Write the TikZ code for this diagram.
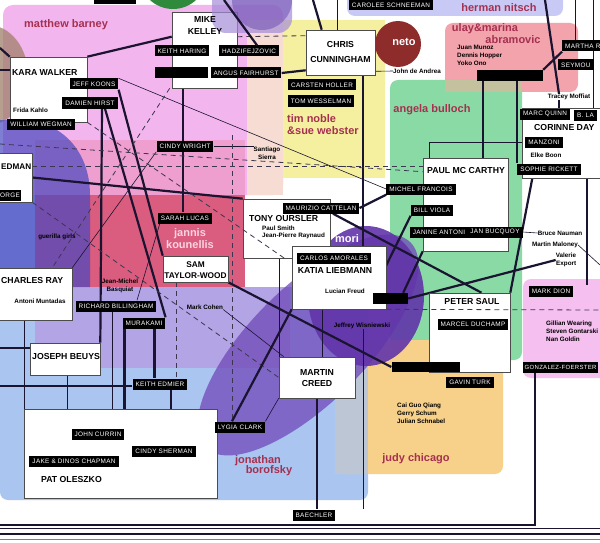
\documentclass[tikz,border=0pt]{standalone}
\usepackage{fontspec}
\setmainfont{Liberation Sans}
\newfontfamily\labfam[LetterSpace=5]{Liberation Sans}
\usetikzlibrary{calc, positioning}
\definecolor{lnk}{HTML}{1A1430}
\definecolor{maroon}{HTML}{A5304F}
\definecolor{jannistext}{HTML}{FAD6E2}
\definecolor{pinkarea}{HTML}{F3B5EE}
\definecolor{rosearea}{HTML}{EE9ECF}
\definecolor{crimson}{HTML}{DA5C7E}
\definecolor{peach}{HTML}{F6DCD2}
\definecolor{yellowarea}{HTML}{F5EFA0}
\definecolor{lightblue}{HTML}{A9C5F0}
\definecolor{lavender}{HTML}{B3A4E6}
\definecolor{bluearea}{HTML}{4848C0}
\definecolor{purpleE}{HTML}{7048B8}
\definecolor{moriP}{HTML}{6234AA}
\definecolor{greenarea}{HTML}{8ADAA6}
\definecolor{salmon}{HTML}{F2A3AC}
\definecolor{olive}{HTML}{C3C19E}
\definecolor{lavtop}{HTML}{C9C9F6}
\definecolor{netored}{HTML}{8E2C2C}
\definecolor{pinkright}{HTML}{F5C0F0}
\definecolor{orangearea}{HTML}{F7D189}
\definecolor{grayov}{HTML}{BCC6D4}
\definecolor{topgreen}{HTML}{2F8A3C}
\definecolor{brownL}{HTML}{A0806A}
\definecolor{lavmid}{HTML}{A48ED8}
\definecolor{purpdark}{HTML}{6A48B0}
\pgfdeclarelayer{areas}
\pgfdeclarelayer{links}
\pgfsetlayers{areas,links,main}

\begin{document}
\begin{tikzpicture}[x=1pt, y=-1pt,
    namebox/.style={draw=black!70, line width=0.6pt, fill=white, inner sep=0pt},
    bigname/.style={font=\bfseries\fontsize{8.7}{11}\selectfont, inner sep=0pt},
    blk/.style={fill=black, text=white, font=\labfam\fontsize{6.4}{7}\selectfont,
        inner xsep=3pt, inner ysep=0pt, minimum height=11pt},
    blkbar/.style={fill=black, inner sep=0pt, minimum height=11pt},
    note/.style={font=\bfseries\fontsize{6.3}{7.8}\selectfont, inner sep=0pt},
    areatext/.style={font=\bfseries\fontsize{11}{12}\selectfont, text=maroon, inner sep=0pt},
    bond/.style={line width=2.2pt, draw=lnk},
    thinbond/.style={line width=0.6pt, draw=lnk},
    dashbond/.style={line width=0.8pt, draw=lnk!85, dash pattern=on 5pt off 4pt},
]
    \useasboundingbox (0,0) rectangle (600,543);

    % coloured fields
    \begin{pgfonlayer}{areas}
        \fill[white] (0,0) rectangle (600,543);
        \fill[lightblue, rounded corners=8pt] (0,287) rectangle (368,500);
        \fill[lightblue] (0,195) rectangle (35,295);
        \fill[pinkarea, rounded corners=10pt] (3,5) rectangle (283,195);
        \fill[rosearea] (35,140) rectangle (245,195);
        \fill[crimson] (35,195) rectangle (245,287);
        \fill[lavender] (35,287) rectangle (290,368);
        \fill[peach] (247,20) rectangle (283,195);
        \fill[yellowarea] (283,20) rectangle (385,178);
        \fill[brownL, opacity=.75] (-12,75) ellipse [x radius=40pt, y radius=50pt];
        \fill[bluearea, opacity=.7] (-10,287) -- (-10,120) -- (20,120)
            .. controls (60,120) and (90,150) .. (90,195) -- (90,287) -- cycle;
        \fill[topgreen] (173,-25) circle [radius=34pt];
        \fill[lavtop, rounded corners=8pt] (347,-10) rectangle (563,16);
        \fill[salmon, rounded corners=8pt] (445,23) rectangle (578,92);
        \fill[greenarea, rounded corners=8pt] (390,80) rectangle (522,360);
        \fill[olive] (445,80) rectangle (522,92);
        \fill[pinkright, rounded corners=8pt] (523,279) rectangle (620,378);
        \fill[orangearea, rounded corners=8pt] (335,340) rectangle (503,474);
        \fill[grayov] (335,340) rectangle (368,474);
        \fill[purpleE, opacity=.75, rotate around={45:(308,345)}] (308,345) ellipse [x radius=145pt, y radius=58pt];
        \fill[moriP, opacity=.9] (366,296) ellipse [x radius=58pt, y radius=70pt];
        \fill[netored] (398,44) circle [radius=23pt];
    \end{pgfonlayer}

    % name boxes
    \node[namebox, minimum width=65pt, minimum height=76pt] (mike) at (204.5,50) {};
    \node[namebox, minimum width=77pt, minimum height=65pt] (kara) at (48.5,89.5) {};
    \node[namebox, minimum width=69pt, minimum height=45pt] (chris) at (340.5,52.5) {};
    \node[namebox, minimum width=40pt, minimum height=49pt] (edman) at (12,177.5) {};
    \node[namebox, minimum width=80pt, minimum height=52pt] (charles) at (32,294) {};
    \node[namebox, minimum width=70pt, minimum height=32pt] (beuys) at (65,359) {};
    \node[namebox, minimum width=193pt, minimum height=89pt] (pat) at (120.5,453.5) {};
    \node[namebox, minimum width=87pt, minimum height=59pt] (tony) at (286.5,228.5) {};
    \node[namebox, minimum width=65pt, minimum height=26pt] (sam) at (195.5,269) {};
    \node[namebox, minimum width=94pt, minimum height=63pt] (katia) at (339,277.5) {};
    \node[namebox, minimum width=85pt, minimum height=93pt] (paul) at (465.5,204.5) {};
    \node[namebox, minimum width=81pt, minimum height=79pt] (peter) at (469.5,332.5) {};
    \node[namebox, minimum width=90pt, minimum height=70pt] (corinne) at (567,143) {};
    \node[namebox, minimum width=76pt, minimum height=41pt] (creed) at (317,377.5) {};

    % purple field over the top of mike kelley
    \fill[lavmid, opacity=.7, rounded corners=14pt] (212,-14) rectangle (292,33);
    \fill[purpdark, opacity=.5] (262,0) circle [radius=30pt];

    % names in the boxes
    \node[bigname, align=center, font=\bfseries\fontsize{8.7}{12}\selectfont] (miket) at (205,26) {MIKE\\KELLEY};
    \node[bigname, anchor=west] (karat) at (12,73) {KARA WALKER};
    \node[bigname, align=center, font=\bfseries\fontsize{8.7}{15}\selectfont] (christ) at (340.5,52.5) {CHRIS\\CUNNINGHAM};
    \node[bigname, anchor=west, font=\bfseries\fontsize{8.2}{10}\selectfont] (edmant) at (1,167) {EDMAN};
    \node[bigname, anchor=west] (charlest) at (1,281) {CHARLES RAY};
    \node[bigname, anchor=west] (beuyst) at (32,357) {JOSEPH BEUYS};
    \node[bigname, anchor=west] (patt) at (41,480) {PAT OLESZKO};
    \node[bigname, anchor=west] (tonyt) at (249,219) {TONY OURSLER};
    \node[bigname, align=center, font=\bfseries\fontsize{8.3}{11.5}\selectfont] (samt) at (195.5,270) {SAM\\TAYLOR-WOOD};
    \node[bigname] (katiat) at (335,271) {KATIA LIEBMANN};
    \node[bigname, anchor=west] (pault) at (427,171) {PAUL MC CARTHY};
    \node[bigname] (petert) at (472,302) {PETER SAUL};
    \node[bigname, anchor=west] (corinnet) at (534,128) {CORINNE DAY};
    \node[bigname, align=center, font=\bfseries\fontsize{8.7}{11}\selectfont] (creedt) at (317,378) {MARTIN\\CREED};

    % small names
    \node[note, anchor=west] (frida) at (13,110) {Frida Kahlo};
    \node[note, align=center] (santiago) at (267,153) {Santiago\\Sierra};
    \node[note] (andrea) at (417,71) {John de Andrea};
    \node[note, align=left, anchor=north west] (juan) at (457,45) {Juan Munoz\\Dennis Hopper\\Yoko Ono};
    \node[note] (tracey) at (569,97) {Tracey Moffiat};
    \node[note] (elke) at (546,155) {Elke Boon};
    \node[note] (nauman) at (560,233) {Bruce Nauman};
    \node[note] (maloney) at (555,245) {Martin Maloney};
    \node[note, align=right] (valerie) at (566,260) {Valerie\\Export};
    \node[note, align=left, anchor=north west] (gillian) at (546,321) {Gillian Wearing\\Steven Gontarski\\Nan Goldin};
    \node[note, align=left, anchor=north west] (cai) at (397,403) {Cai Guo Qiang\\Gerry Schum\\Julian Schnabel};
    \node[note] (wisniewski) at (362,326) {Jeffrey Wisniewski};
    \node[note] (cohen) at (205,307) {Mark Cohen};
    \node[note, align=center] (basquiat) at (120,286) {Jean-Michel\\Basquiat};
    \node[note] (guerilla) at (57,237) {guerilla girls};
    \node[note] (muntadas) at (40,301) {Antoni Muntadas};
    \node[note, align=left, anchor=north west, font=\bfseries\fontsize{6.3}{7.2}\selectfont] (smith) at (262,226) {Paul Smith\\Jean-Pierre Raynaud};
    \node[note] (lucian) at (345,291) {Lucian Freud};

    % field names
    \node[areatext, anchor=west] (barney) at (24,25) {matthew barney};
    \node[areatext, align=left, anchor=north west] (timnoble) at (287,114) {tim noble\\\&sue webster};
    \node[areatext] (herman) at (499,8) {herman nitsch};
    \node[areatext] (ulayA) at (485,29) {ulay\&marina};
    \node[areatext] (ulayB) at (513,40) {abramovic};
    \node[areatext] (angela) at (432,110) {angela bulloch};
    \node[areatext, text=jannistext, align=center] (jannis) at (190,239) {jannis\\kounellis};
    \node[areatext, text=white] (mori) at (347,239) {mori};
    \node[areatext, text=white] (netot) at (404,42) {neto};
    \node[areatext] (jonathan) at (258,461) {jonathan};
    \node[areatext] (borofsky) at (269,471) {borofsky};
    \node[areatext] (judy) at (416,459) {judy chicago};

    % black tags
    \node[blk] (haring) at (182,51) {KEITH HARING};
    \node[blk] (hadzi) at (249,51) {HADZIFEJZOVIC};
    \node[blk] (angus) at (246,73) {ANGUS FAIRHURST};
    \node[blk] (koons) at (94,84) {JEFF KOONS};
    \node[blk] (hirst) at (90,103) {DAMIEN HIRST};
    \node[blk] (wegman) at (41,124) {WILLIAM WEGMAN};
    \node[blk, anchor=west, inner xsep=1pt] (orge) at (-1,195) {ORGE};
    \node[blk] (cwright) at (185,146) {CINDY WRIGHT};
    \node[blk] (lucas) at (185,218) {SARAH LUCAS};
    \node[blk] (holler) at (322,85) {CARSTEN HOLLER};
    \node[blk] (wessel) at (321,101) {TOM WESSELMAN};
    \node[blk] (carolee) at (391,5) {CAROLEE SCHNEEMAN};
    \node[blk, anchor=west] (martha) at (562,46) {MARTHA R};
    \node[blk, anchor=west] (seymou) at (558,65) {SEYMOU};
    \node[blk] (quinn) at (545,114) {MARC QUINN};
    \node[blk, anchor=west] (bla) at (574,115) {B. LA};
    \node[blk] (manzoni) at (544,142) {MANZONI};
    \node[blk] (rickett) at (549,169) {SOPHIE RICKETT};
    \node[blk] (francois) at (421,189) {MICHEL FRANCOIS};
    \node[blk] (viola) at (432,210) {BILL VIOLA};
    \node[blk] (antoni) at (439,232) {JANINE ANTONI};
    \node[blk] (bucquoy) at (495,232) {JAN BUCQUOY};
    \node[blk] (dion) at (551,291) {MARK DION};
    \node[blk, anchor=west, inner xsep=1.5pt, font=\labfam\fontsize{6}{7}\selectfont] (gonzalez) at (523,367) {GONZALEZ-FOERSTER};
    \node[blk] (turk) at (470,382) {GAVIN TURK};
    \node[blk] (cattelan) at (321,208) {MAURIZIO CATTELAN};
    \node[blk] (amorales) at (334,258) {CARLOS AMORALES};
    \node[blk] (duchamp) at (473,324) {MARCEL DUCHAMP};
    \node[blk] (billing) at (116,306) {RICHARD BILLINGHAM};
    \node[blk] (murakami) at (144,323) {MURAKAMI};
    \node[blk] (edmier) at (160,384) {KEITH EDMIER};
    \node[blk] (currin) at (98,434) {JOHN CURRIN};
    \node[blk] (sherman) at (164,451) {CINDY SHERMAN};
    \node[blk] (chapman) at (74,461) {JAKE \& DINOS CHAPMAN};
    \node[blk] (lygia) at (240,427) {LYGIA CLARK};
    \node[blk] (baechler) at (314,515) {BAECHLER};

    % empty black bars
    \node[blkbar, minimum width=53pt] (mkbar) at (181.5,73) {};
    \node[blkbar, minimum width=66pt] (ulaybar) at (510,75.5) {};
    \node[blkbar, minimum width=35pt] (katbar) at (390.5,298.5) {};
    \node[blkbar, minimum width=68pt, minimum height=10pt] (petbar) at (425.5,367) {};
    \node[blkbar, minimum width=42pt, minimum height=7pt] (topbar) at (115,1) {};

    % free ends and drop points
    \coordinate (mktop) at (224,0);
    \coordinate (cctop) at (313,0);
    \coordinate (cctop2) at (337,0);
    \coordinate (mrtop) at (545,0);
    \coordinate (rtop1) at (575,0);
    \coordinate (rtop2) at (593,0);
    \coordinate (lefta) at (0,144);
    \coordinate (lkar1) at (0,48);
    \coordinate (lkar2) at (0,70);
    \coordinate (lbeu) at (0,348);
    \coordinate (ledm) at (0,386);
    \coordinate (dtop) at (232,135);
    \coordinate (dright) at (600,310);
    \coordinate (mright) at (600,265);
    \coordinate (sright) at (600,164);
    \coordinate (wisd) at (363,509);
    \coordinate (frame) at (0,525);
    \coordinate (hzdrop) at ($(hadzi.south west)+(8,0)$);
    \coordinate (ccdrop) at ($(chris.south east)+(-12,0)$);
    \coordinate (ubl) at ($(ulaybar.south west)+(6,0)$);
    \coordinate (ubr) at ($(ulaybar.south west)+(40,0)$);
    \coordinate (tq) at ($(tracey.south)+(-10,0)$);
    \coordinate (cds) at ($(corinne.south west)+(65,0)$);
    \coordinate (samdrop) at ($(sam.south west)+(14,0)$);
    \coordinate (tonydrop) at ($(tony.south west)+(37,0)$);
    \coordinate (katdrop) at ($(katia.south west)+(31,0)$);
    \coordinate (crdrop) at ($(charles.south west)+(33,0)$);
    \coordinate (bydrop) at ($(beuys.south west)+(38,0)$);
    \coordinate (rbdrop) at ($(billing.south)+(-4,0)$);
    \coordinate (mkdropa) at ($(murakami.south west)+(2,0)$);
    \coordinate (mkdropb) at ($(murakami.south east)+(-11,0)$);
    \coordinate (eddrop) at ($(edmier.south)+(11,0)$);
    \coordinate (gzdrop) at ($(gonzalez.south west)+(12,0)$);

    \begin{pgfonlayer}{links}
        % upper left
        \draw[bond] (kara.north east) -- ($(mike.north west)+(0,25)$);
        \draw[bond] (lkar1) -- (kara.north west);
        \draw[bond] (lkar2) -- (lkar2 -| kara.west);
        \draw[bond] (koons.south east) -- (sam.north west);
        \draw[bond] ($(hirst.south)+(15,0)$) -- (murakami.north east);
        \draw[bond] ($(hirst.south)+(12,0)$) -- (beuys.north east);
        \draw[bond] ($(mkbar.south)+(1.5,0)$) -- ($(lucas.north)+(-2,0)$);
        \draw[bond] (edman.east) -- (tony.north west);
        \draw[bond] (angus.east) -- ($(chris.south west)+(0,-5)$);
        \draw[thinbond] (hzdrop) -- (hzdrop |- angus.north);
        \draw[thinbond] (koons.north east) -- (francois.west);
        \draw[thinbond] (cwright.east) -- (cwright.east -| santiago.west);
        \draw[thinbond] (charles.north east) -- (cwright.south west);

        % chris cunningham
        \draw[bond] (cctop) -- ($(chris.north west)+(16,0)$);
        \draw[thinbond] (cctop2) -- (cctop2 |- chris.north);
        \draw[bond] (ccdrop) -- (ccdrop |- amorales.north);
        \draw[thinbond] ($(chris.south east)+(0,-4)$) -- (andrea.west);
        \draw[dashbond] ($(mike.north east)+(0,25)$) -- ($(chris.north west)+(0,6)$);

        % upper right
        \draw[bond] (ubl) -- (ubl |- paul.north);
        \draw[bond] (ubr) -- (ubr |- rickett.north);
        \draw[bond] (ulaybar.north east) -- (martha.south west);
        \draw[bond] (mrtop) -- ($(tracey.north)+(-10,0)$);
        \draw[line width=1.2pt, lnk] (tq) -- (tq |- quinn.north);
        \draw[thinbond] (rtop1) -- (rtop1 |- martha.north);
        \draw[thinbond] (rtop2) -- (rtop2 |- bla.north);
        \draw[thinbond] (manzoni.west) -| ($(paul.north west)+(7,0)$);
        \draw[thinbond] (rickett.east) -- (sright);
        \draw[bond] (cds) -- (cds |- dion.north);
        \draw[bond] ($(rickett.south)+(-16,0)$) -- (peter.north east);

        % paul mc carthy and peter saul
        \draw[bond] (viola.south west) -- (katbar.north west);
        \draw[bond] (paul.south west) -- ($(katbar.north east)+(-5,0)$);
        \draw[bond] (valerie.west) -- (katbar.east);
        \draw[thinbond] (antoni.east) -- (bucquoy.west);
        \draw[thinbond] (bucquoy.east) -- (nauman.west);
        \draw[thinbond] (maloney.east) -- (mright);
        \draw[bond] ($(cattelan.south)+(12,0)$) -- ($(peter.north)+(12,0)$);
        \draw[bond] (francois.south west) -- (cattelan.east);

        % dashed ties
        \draw[dashbond] (lefta) -- ($(paul.north west)+(0,14)$);
        \draw[dashbond] ($(edman.north east)+(0,14)$) -- ($(paul.north west)+(0,9)$);
        \draw[dashbond] ($(mike.south west)+(-2,0)$) -- ($(charles.north east)+(-20,0)$);
        \draw[dashbond] (edman.south east) -- (creed.west);
        \draw[dashbond] (dtop) -- (dtop |- lygia.north);
        \draw[dashbond] (samdrop) -- (samdrop |- edmier.north);

        % centre
        \draw[bond] (sam.south east) -- (petbar.west);
        \draw[bond] ($(lygia.north)+(-8,0)$) -- (katia.south west);
        \draw[thinbond] (lygia.north east) -- (creed.south west);
        \draw[line width=1.4pt, lnk] (tonydrop) -- (tonydrop |- creed.north);
        \draw[line width=1.4pt, lnk] (creed.south) -- (creed.south |- baechler.north);
        \draw[line width=1pt, lnk] (katdrop) -- (katdrop |- creed.north);
        \draw[thinbond] ($(wisniewski.south)+(1,0)$) -- (wisd);
        \draw[thinbond] (cohen.south east) -- ($(creed.north west)+(5,0)$);
        \draw[thinbond] ($(billing.north)+(21,0)$) -- ($(lucas.south west)+(2,0)$);

        % lower left
        \draw[thinbond] (crdrop) -- (crdrop |- pat.north);
        \draw[thinbond] (bydrop) -- (bydrop |- pat.north);
        \draw[thinbond] (rbdrop) -- (rbdrop |- pat.north);
        \draw[bond] (mkdropa) -- (mkdropa |- currin.north);
        \draw[bond] (mkdropb) -- (mkdropb |- edmier.north);
        \draw[bond] (eddrop) -- (eddrop |- sherman.north);
        \draw[bond] (lbeu) -- (lbeu -| beuys.west);
        \draw[bond] (ledm) -- (ledm -| edmier.west);

        % frame and bottom rules
        \draw[line width=1.6pt, lnk] (gzdrop) |- (frame);
        \draw[line width=0.6pt, lnk] (0,528.5) -- (600,528.5);
        \draw[line width=1.8pt, lnk] (0,534) -- (600,534);
        \draw[line width=0.6pt, gray] (0,539.5) -- (600,539.5);
    \end{pgfonlayer}

    % ties that run over the boxes
    \draw[bond] (mktop) -- ($(hadzi.north)+(8,0)$);
    \draw[dashbond] (kara.south east) -- ($(tony.south)+(-2,0)$);
    \draw[dashbond] (katia.south east) -- (dright);
\end{tikzpicture}
\end{document}
